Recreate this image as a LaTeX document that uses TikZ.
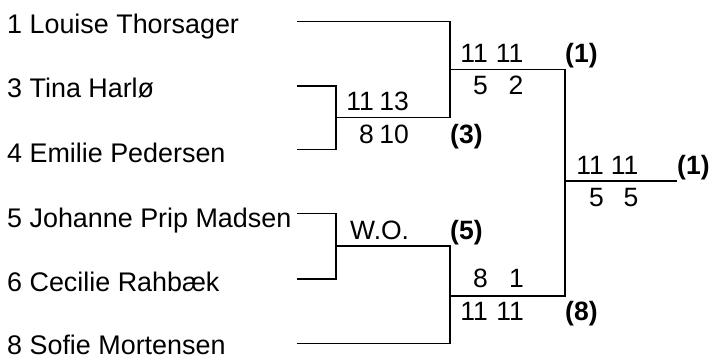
\documentclass[tikz,border=0pt]{standalone}
\usepackage{fontspec}
\setmainfont{Liberation Sans}
\begin{document}
\begin{tikzpicture}[x=1pt,y=-1pt,
  br/.style={line width=1.8pt,line cap=rect},
  pname/.style={anchor=base west,inner sep=0pt,font=\fontsize{26.9}{30}\selectfont},
  sc/.style={anchor=base east,inner sep=0pt,font=\fontsize{26.5}{30}\selectfont},
  wo/.style={anchor=base west,inner sep=0pt,font=\fontsize{26.5}{30}\selectfont},
  seed/.style={anchor=base west,inner sep=0pt,font=\fontsize{26.5}{30}\bfseries\selectfont}]
\useasboundingbox (0,0) rectangle (712,358);
% player line ends
\coordinate (p1a) at (298,21.5); \coordinate (p1b) at (450,21.5);
\coordinate (p3a) at (298,86);   \coordinate (p3b) at (336,86);
\coordinate (p4a) at (298,149.5);\coordinate (p4b) at (336,149.5);
\coordinate (p5a) at (298,213.5);\coordinate (p5b) at (336,213.5);
\coordinate (p6a) at (298,279);  \coordinate (p6b) at (336,279);
\coordinate (p8a) at (298,343.5);\coordinate (p8b) at (450,343.5);
% match lines
\coordinate (m1a) at (336,117.5); \coordinate (m1b) at (450,117.5);
\coordinate (m3a) at (336,246);   \coordinate (m3b) at (450,246);
\coordinate (m2a) at (450,69.5);  \coordinate (m2b) at (565,69.5);
\coordinate (m4a) at (450,296);   \coordinate (m4b) at (565,296);
\coordinate (fa) at (565,181);    \coordinate (fb) at (676,181);
% names
\node[pname] (n1) at (7,33.5) {1 Louise Thorsager};
\node[pname] (n3) at (7,98) {3 Tina Harlø};
\node[pname] (n4) at (7,162.5) {4 Emilie Pedersen};
\node[pname] (n5) at (7,227) {5 Johanne Prip Madsen};
\node[pname] (n6) at (7,291.5) {6 Cecilie Rahbæk};
\node[pname] (n8) at (7,354) {8 Sofie Mortensen};
% brackets
\draw[br] (p3a) -- (p3b) -- (p4b) -- (p4a);
\draw[br] (m1a) -- (m1b);
\draw[br] (p1a) -- (p1b) -- (m1b);
\draw[br] (p5a) -- (p5b) -- (p6b) -- (p6a);
\draw[br] (m3a) -- (m3b);
\draw[br] (p8a) -- (p8b) -- (m3b);
\draw[br] (m2a) -- (m2b) -- (m4b) -- (m4a);
\draw[br] (fa) -- (fb);
% match 1 scores
\node[sc] (s1a) at (374,110.5) {11};
\node[sc] (s1b) at (409,110.5) {13};
\node[sc] (s1c) at (374,144) {8};
\node[sc] (s1d) at (409,144) {10};
\node[seed] (w1) at (450,144) {(3)};
% match 3
\node[wo] (s3) at (350,240) {W.O.};
\node[seed] (w3) at (450,240) {(5)};
% match 2
\node[sc] (s2a) at (488,62.5) {11};
\node[sc] (s2b) at (523.5,62.5) {11};
\node[sc] (s2c) at (488,95) {5};
\node[sc] (s2d) at (523.5,95) {2};
\node[seed] (w2) at (565,62.5) {(1)};
% match 4
\node[sc] (s4a) at (488,287.5) {8};
\node[sc] (s4b) at (524,287.5) {1};
\node[sc] (s4c) at (488,320) {11};
\node[sc] (s4d) at (524,320) {11};
\node[seed] (w4) at (565,320) {(8)};
% final
\node[sc] (sfa) at (604,175) {11};
\node[sc] (sfb) at (638.5,175) {11};
\node[sc] (sfc) at (604,207) {5};
\node[sc] (sfd) at (638.5,207) {5};
\node[seed] (wf) at (677,175) {(1)};
\end{tikzpicture}
\end{document}
